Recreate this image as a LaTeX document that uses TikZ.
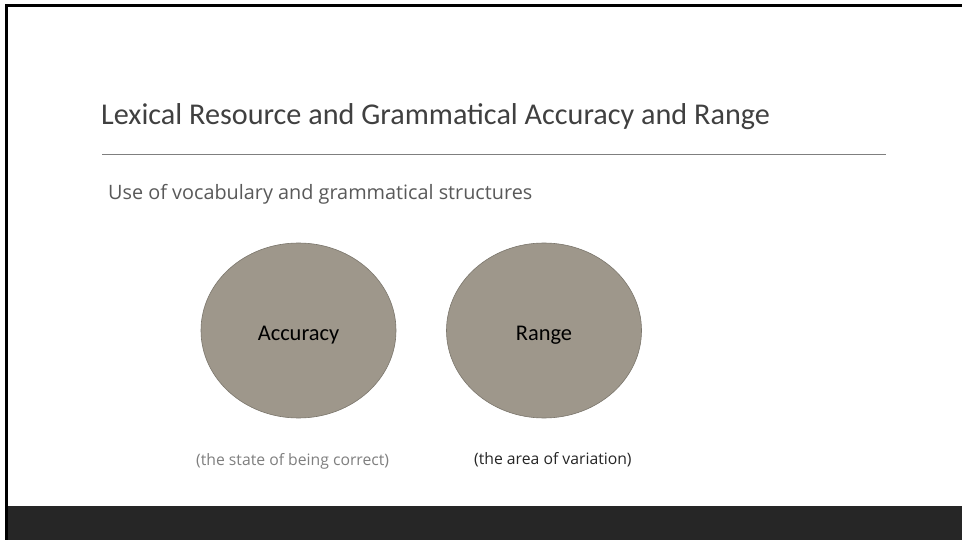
\documentclass[tikz,border=0pt]{standalone}
\usepackage{fontspec}
\setmainfont{Carlito}
\newfontfamily\notefont{Open Sans}
\usetikzlibrary{shapes.geometric}
\definecolor{frameColor}{HTML}{000000}
\definecolor{bandColor}{HTML}{262626}
\definecolor{ruleColor}{HTML}{7F7F7F}
\definecolor{titleColor}{HTML}{404040}
\definecolor{subColor}{HTML}{595959}
\definecolor{ovalColor}{HTML}{9E978B}
\definecolor{ovalLineColor}{HTML}{7B766C}
\definecolor{noteColorA}{HTML}{7F7F7F}
\definecolor{noteColorB}{HTML}{262626}
\def\textA{Accuracy}
\def\textB{Range}
\def\noteA{(the state of being correct)}
\def\noteB{(the area of variation)}

\begin{document}
\begin{tikzpicture}[x=1bp,y=-1bp]
\tikzset{
oval/.style={ellipse, draw=ovalLineColor, fill=ovalColor, line width=0.6bp,
minimum width=195bp, minimum height=175bp, inner sep=0pt,
text height=19bp, text depth=0bp,
font=\fontsize{22.5}{26}\selectfont, text=black},
note/.style={anchor=base west, font=\notefont\fontsize{15.8}{18}\selectfont}
}
\useasboundingbox (0, 0) rectangle (962, 540);

% frame
\begin{scope}
\fill[color=white] (0, 0) rectangle (962, 540);
\fill[color=bandColor] (8, 506) rectangle (962, 540);
\draw[color=frameColor, line width=2.5bp] (6.5, 540) -- (6.5, 5.5) -- (962, 5.5);
\end{scope}

% title layer
\begin{scope}
\node[anchor=base west, inner sep=0pt, text=titleColor,
font=\fontsize{30.3}{34}\selectfont] (title) at (101, 125)
{Lexical Resource and Grammatical Accuracy and Range};
\draw[color=ruleColor, line width=1bp] (102, 154.5) -- (886, 154.5);
\node[anchor=base west, inner sep=0pt, text=subColor,
font=\notefont\fontsize{19.9}{24}\selectfont] (sub) at (108, 200)
{Use of vocabulary and grammatical structures};
\end{scope}

% oval layer
\begin{scope}
\node[oval] (accuracy) at (298.5, 330.5) {\textA};
\node[oval] (range) at (544, 330.5) {\textB};
\end{scope}

% note layer
\begin{scope}
\node[note, inner sep=0pt, text=noteColorA] (noteA) at (196, 465) {\noteA};
\node[note, inner sep=0pt, text=noteColorB] (noteB) at (474, 464) {\noteB};
\end{scope}

\end{tikzpicture}
\end{document}
